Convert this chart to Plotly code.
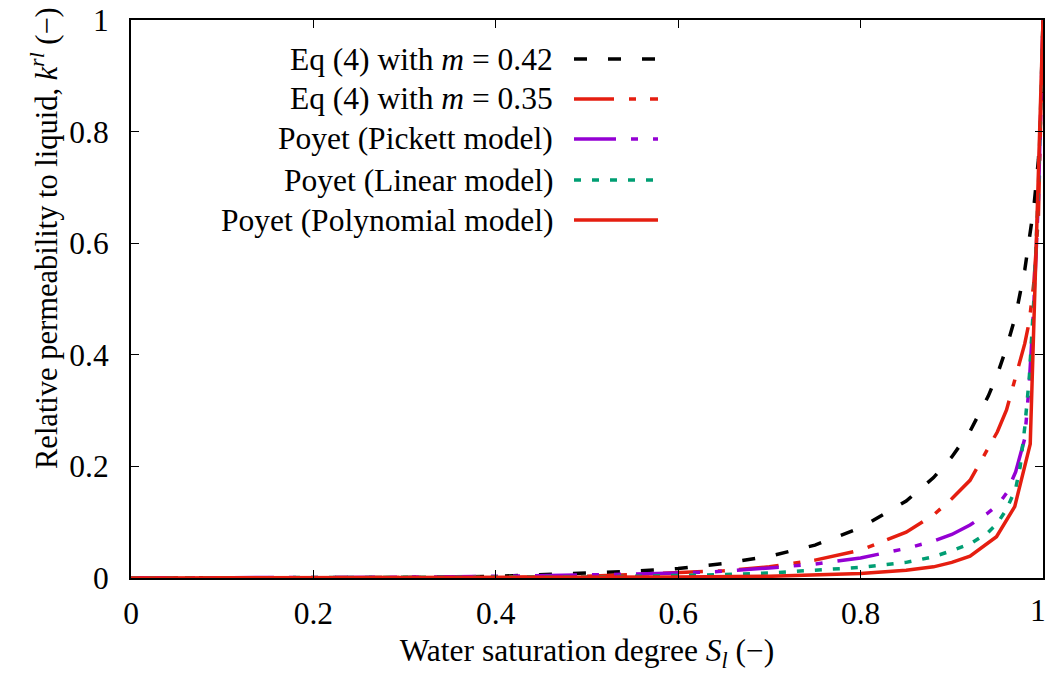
import plotly.graph_objects as go

# Water saturation degree S_l and relative permeability k_rl for each model
sl_eq42 = [0.0, 0.1, 0.2, 0.3, 0.4, 0.5, 0.55, 0.6, 0.65, 0.7, 0.75, 0.8, 0.85, 0.88, 0.9,
           0.92, 0.94, 0.95, 0.96, 0.97, 0.98, 0.99, 0.995, 0.999, 1.0]
kr_eq42 = [0.0, 0.0001, 0.0003, 0.001, 0.003, 0.008, 0.012, 0.017, 0.026, 0.039, 0.059, 0.09,
           0.138, 0.18, 0.217, 0.263, 0.326, 0.365, 0.413, 0.47, 0.552, 0.665, 0.75, 0.87, 1.0]

sl_eq35 = [0.0, 0.1, 0.2, 0.3, 0.4, 0.5, 0.6, 0.65, 0.7, 0.75, 0.8, 0.85, 0.88, 0.9, 0.92,
           0.94, 0.95, 0.96, 0.97, 0.98, 0.985, 0.99, 0.995, 1.0]
kr_eq35 = [0.0, 0.0, 0.0001, 0.0005, 0.001, 0.003, 0.009, 0.013, 0.02, 0.032, 0.05, 0.082,
           0.113, 0.142, 0.175, 0.232, 0.262, 0.301, 0.36, 0.42, 0.46, 0.53, 0.65, 1.0]

sl_pickett = [0.0, 0.1, 0.2, 0.3, 0.4, 0.5, 0.55, 0.6, 0.65, 0.7, 0.75, 0.8, 0.85, 0.88, 0.9,
              0.92, 0.94, 0.95, 0.96, 0.97, 0.98, 0.985, 0.99, 0.995, 1.0]
kr_pickett = [0.0, 0.0003, 0.0008, 0.0015, 0.003, 0.005, 0.007, 0.009, 0.012, 0.018, 0.025,
              0.036, 0.053, 0.066, 0.078, 0.095, 0.117, 0.13, 0.152, 0.19, 0.25, 0.35, 0.49,
              0.68, 1.0]

sl_linear = [0.0, 0.1, 0.2, 0.3, 0.4, 0.5, 0.55, 0.6, 0.65, 0.7, 0.75, 0.8, 0.85, 0.88, 0.9,
             0.92, 0.94, 0.95, 0.96, 0.97, 0.975, 0.98, 0.985, 0.99, 0.995, 1.0]
kr_linear = [0.0, 0.0001, 0.0003, 0.0006, 0.001, 0.002, 0.003, 0.004, 0.006, 0.009, 0.0135,
             0.019, 0.028, 0.038, 0.049, 0.061, 0.082, 0.098, 0.123, 0.16, 0.2, 0.27, 0.36,
             0.5, 0.7, 1.0]

sl_poly = [0.0, 0.2, 0.4, 0.5, 0.6, 0.7, 0.75, 0.8, 0.85, 0.88, 0.9, 0.92, 0.949, 0.969,
           0.986, 1.0]
kr_poly = [0.0, 0.0002, 0.0005, 0.001, 0.002, 0.003, 0.005, 0.008, 0.014, 0.02, 0.028, 0.039,
           0.074, 0.128, 0.24, 1.0]

tick_vals = [0, 0.2, 0.4, 0.6, 0.8, 1]
tick_text = ["0", "0.2", "0.4", "0.6", "0.8", "1"]

names = ["Eq (4) with <i>m</i> = 0.42", "Eq (4) with <i>m</i> = 0.35",
         "Poyet (Pickett model)", "Poyet (Linear model)", "Poyet (Polynomial model)"]
colors = ["#000000", "#e51e10", "#9400d3", "#009e73", "#e51e10"]
dashes = ["13px,21px", "40px,15px,7px,14px", "42px,15px,7px,15px,7px,15px", "7px,11px", "solid"]
series = [(sl_eq42, kr_eq42), (sl_eq35, kr_eq35), (sl_pickett, kr_pickett),
          (sl_linear, kr_linear), (sl_poly, kr_poly)]

FONT = "Liberation Serif"
FS = 31.5
LW = 3.5

fig = go.Figure()
for (xs, ys), name, col, dsh in zip(series, names, colors, dashes):
    fig.add_trace(go.Scatter(x=xs, y=ys, mode="lines", name=name, showlegend=False,
                             line=dict(color=col, width=LW, dash=dsh)))

W, H = 1048, 673
ml, mr, mt, mb = 131, 5, 20, 95
pw, ph = W - ml - mr, H - mt - mb

def px_x(p):
    return (p - ml) / pw

def px_y(p):
    return (H - mb - p) / ph

# Key box: right-aligned labels with line samples to the right
annotations = []
shapes = []
row_y = [59, 99, 139, 180, 220]
for yy, name, col, dsh in zip(row_y, names, colors, dashes):
    annotations.append(dict(x=px_x(555), y=px_y(yy), xref="paper", yref="paper",
                            text=name, showarrow=False, xanchor="right", yanchor="middle",
                            font=dict(family=FONT, size=FS, color="#000")))
    shapes.append(dict(type="line", xref="paper", yref="paper",
                       x0=px_x(574), x1=px_x(658), y0=px_y(yy), y1=px_y(yy),
                       line=dict(color=col, width=LW, dash=dsh)))

annotations.append(dict(x=px_x(44), y=px_y(238), xref="paper", yref="paper",
                        text="Relative permeability to liquid, <i>k</i><sup><i>rl</i></sup> (\u2212)",
                        textangle=-90, showarrow=False, xanchor="center", yanchor="middle",
                        font=dict(family=FONT, size=30.5, color="#000")))

# Last x tick label sits at the page edge: draw it right-anchored so it stays inside
annotations.append(dict(x=tick_vals[-1], y=0, xref="x", yref="paper", yshift=-13,
                        text=tick_text[-1], showarrow=False, xanchor="right", yanchor="top",
                        xshift=5, font=dict(family=FONT, size=FS, color="#000")))
x_tick_text = tick_text[:-1] + [""]

axis_common = dict(showgrid=False, zeroline=False, showline=True, linecolor="#000",
                   linewidth=2, mirror="ticks", ticks="inside", ticklen=8, tickwidth=1.3,
                   tickcolor="#000", tickfont=dict(family=FONT, size=FS, color="#000"),
                   range=[0, 1], tickvals=tick_vals,
                   automargin=False, ticklabeloverflow="allow")

fig.update_layout(
    width=W, height=H,
    margin=dict(l=ml, r=mr, t=mt, b=mb, autoexpand=False),
    paper_bgcolor="white", plot_bgcolor="white",
    xaxis=dict(ticklabelstandoff=6, ticktext=x_tick_text,
               title=dict(text="Water saturation degree <i>S</i><sub><i>l</i></sub> (\u2212)",
                          font=dict(family=FONT, size=FS, color="#000"), standoff=12),
               **axis_common),
    yaxis=dict(ticklabelstandoff=14, ticktext=tick_text, **axis_common),
    annotations=annotations,
    shapes=shapes,
)

fig.write_html("out.html")
